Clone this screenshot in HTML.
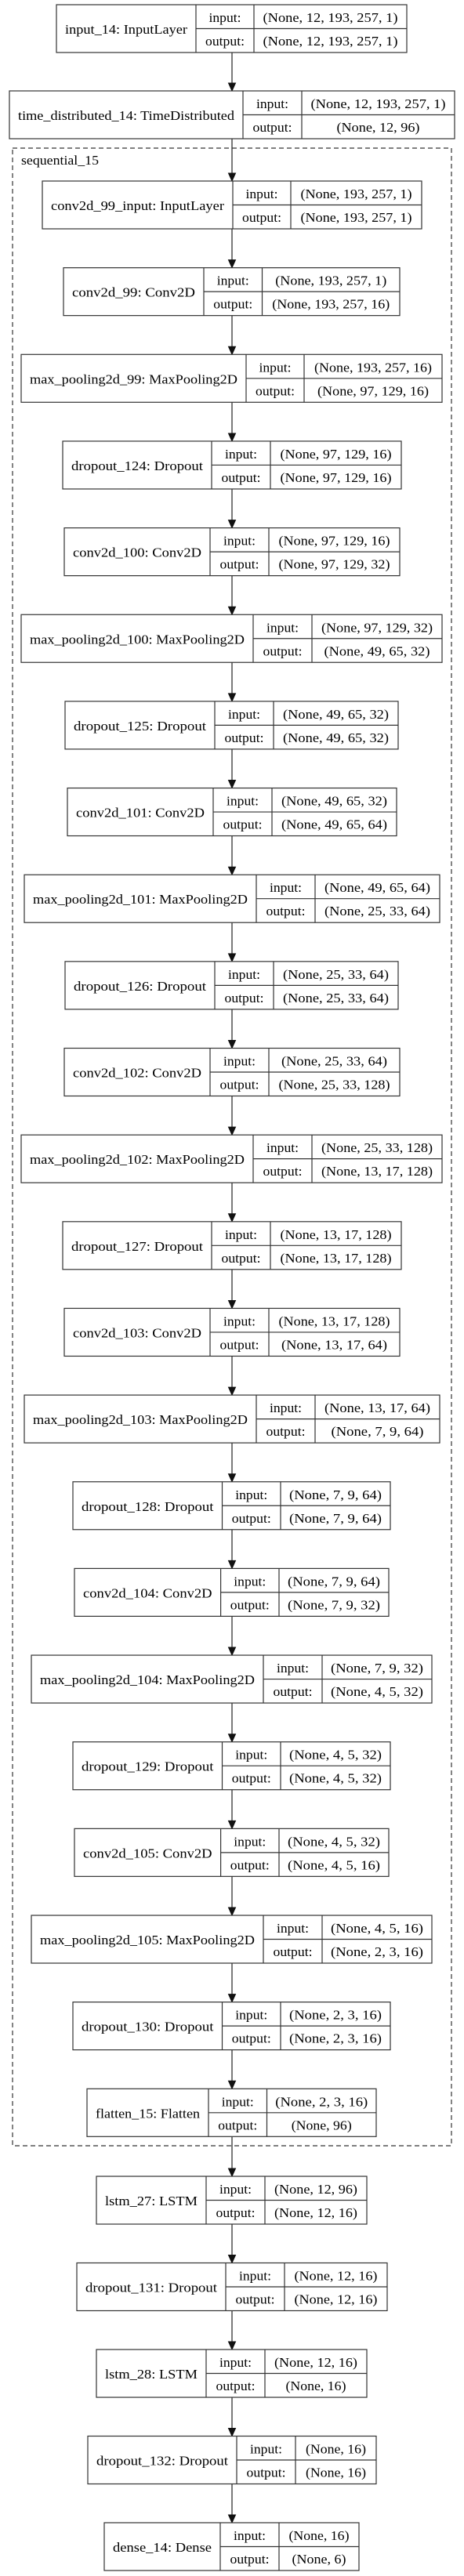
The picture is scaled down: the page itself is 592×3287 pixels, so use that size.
<!DOCTYPE html>
<html><head><meta charset="utf-8"><style>
html,body{margin:0;padding:0;background:#fff;}
svg{display:block;}
rect,line{stroke:#333;stroke-width:1.2;fill:none;}
rect.b{fill:#fff;}
text{font-family:"Liberation Serif",serif;font-size:17px;fill:#000;text-anchor:middle;}
.ar line{stroke:#333;stroke-width:1.3;}
.ar polygon{fill:#111;stroke:#111;stroke-width:1;}
</style></head><body>
<svg width="592" height="3287" viewBox="0 0 592 3287" xmlns="http://www.w3.org/2000/svg" lengthAdjust="spacingAndGlyphs">
<rect x="0" y="0" width="592" height="3287" style="fill:#fff;stroke:none"/>
<rect x="16" y="189" width="560" height="2549" style="stroke-dasharray:6,4"/>
<text x="27" y="210" style="text-anchor:start" textLength="99" lengthAdjust="spacingAndGlyphs">sequential_15</text>

<g class="ar">
<line x1="296" y1="67" x2="296" y2="106"/><polygon points="291.5,106 300.5,106 296,116"/>
<line x1="296" y1="177" x2="296" y2="221"/><polygon points="291.5,221 300.5,221 296,231"/>
<line x1="296" y1="292" x2="296" y2="331.65"/><polygon points="291.5,331.65 300.5,331.65 296,341.65"/>
<line x1="296" y1="402.65" x2="296" y2="442.3"/><polygon points="291.5,442.3 300.5,442.3 296,452.3"/>
<line x1="296" y1="513.3" x2="296" y2="552.95"/><polygon points="291.5,552.95 300.5,552.95 296,562.95"/>
<line x1="296" y1="623.95" x2="296" y2="663.6"/><polygon points="291.5,663.6 300.5,663.6 296,673.6"/>
<line x1="296" y1="734.6" x2="296" y2="774.25"/><polygon points="291.5,774.25 300.5,774.25 296,784.25"/>
<line x1="296" y1="845.25" x2="296" y2="884.9"/><polygon points="291.5,884.9 300.5,884.9 296,894.9"/>
<line x1="296" y1="955.9" x2="296" y2="995.55"/><polygon points="291.5,995.55 300.5,995.55 296,1005.55"/>
<line x1="296" y1="1066.55" x2="296" y2="1106.2"/><polygon points="291.5,1106.2 300.5,1106.2 296,1116.2"/>
<line x1="296" y1="1177.2" x2="296" y2="1216.85"/><polygon points="291.5,1216.85 300.5,1216.85 296,1226.85"/>
<line x1="296" y1="1287.85" x2="296" y2="1327.5"/><polygon points="291.5,1327.5 300.5,1327.5 296,1337.5"/>
<line x1="296" y1="1398.5" x2="296" y2="1438.15"/><polygon points="291.5,1438.15 300.5,1438.15 296,1448.15"/>
<line x1="296" y1="1509.15" x2="296" y2="1548.8"/><polygon points="291.5,1548.8 300.5,1548.8 296,1558.8"/>
<line x1="296" y1="1619.8" x2="296" y2="1659.45"/><polygon points="291.5,1659.45 300.5,1659.45 296,1669.45"/>
<line x1="296" y1="1730.45" x2="296" y2="1770.1"/><polygon points="291.5,1770.1 300.5,1770.1 296,1780.1"/>
<line x1="296" y1="1841.1" x2="296" y2="1880.75"/><polygon points="291.5,1880.75 300.5,1880.75 296,1890.75"/>
<line x1="296" y1="1951.75" x2="296" y2="1991.4"/><polygon points="291.5,1991.4 300.5,1991.4 296,2001.4"/>
<line x1="296" y1="2062.4" x2="296" y2="2102.05"/><polygon points="291.5,2102.05 300.5,2102.05 296,2112.05"/>
<line x1="296" y1="2173.05" x2="296" y2="2212.7"/><polygon points="291.5,2212.7 300.5,2212.7 296,2222.7"/>
<line x1="296" y1="2283.7" x2="296" y2="2323.35"/><polygon points="291.5,2323.35 300.5,2323.35 296,2333.35"/>
<line x1="296" y1="2394.35" x2="296" y2="2434"/><polygon points="291.5,2434 300.5,2434 296,2444"/>
<line x1="296" y1="2505" x2="296" y2="2544.65"/><polygon points="291.5,2544.65 300.5,2544.65 296,2554.65"/>
<line x1="296" y1="2615.65" x2="296" y2="2655.3"/><polygon points="291.5,2655.3 300.5,2655.3 296,2665.3"/>
<line x1="296" y1="2726.3" x2="296" y2="2767"/><polygon points="291.5,2767 300.5,2767 296,2777"/>
<line x1="296" y1="2838" x2="296" y2="2877.5"/><polygon points="291.5,2877.5 300.5,2877.5 296,2887.5"/>
<line x1="296" y1="2948.5" x2="296" y2="2988"/><polygon points="291.5,2988 300.5,2988 296,2998"/>
<line x1="296" y1="3059" x2="296" y2="3098.5"/><polygon points="291.5,3098.5 300.5,3098.5 296,3108.5"/>
<line x1="296" y1="3169.5" x2="296" y2="3209"/><polygon points="291.5,3209 300.5,3209 296,3219"/>
</g>

<!-- input_14 -->
<g transform="translate(0,6)"><rect class="b" x="72" y="0" width="447" height="61"/><line x1="250" y1="0" x2="250" y2="61"/><line x1="324" y1="0" x2="324" y2="61"/><line x1="250" y1="30.5" x2="519" y2="30.5"/>
<text x="161" y="37" textLength="156" lengthAdjust="spacingAndGlyphs">input_14: InputLayer</text><text x="287" y="22" textLength="41" lengthAdjust="spacingAndGlyphs">input:</text><text x="287" y="52" textLength="50" lengthAdjust="spacingAndGlyphs">output:</text>
<text x="421.5" y="22" textLength="172" lengthAdjust="spacingAndGlyphs">(None, 12, 193, 257, 1)</text><text x="421.5" y="52" textLength="172" lengthAdjust="spacingAndGlyphs">(None, 12, 193, 257, 1)</text></g>

<!-- time_distributed -->
<g transform="translate(0,116)"><rect class="b" x="12" y="0" width="568" height="61"/><line x1="310" y1="0" x2="310" y2="61"/><line x1="385" y1="0" x2="385" y2="61"/><line x1="310" y1="30.5" x2="580" y2="30.5"/>
<text x="161" y="37" textLength="276" lengthAdjust="spacingAndGlyphs">time_distributed_14: TimeDistributed</text><text x="347.5" y="22" textLength="41" lengthAdjust="spacingAndGlyphs">input:</text><text x="347.5" y="52" textLength="50" lengthAdjust="spacingAndGlyphs">output:</text>
<text x="482.5" y="22" textLength="172" lengthAdjust="spacingAndGlyphs">(None, 12, 193, 257, 1)</text><text x="482.5" y="52" textLength="106" lengthAdjust="spacingAndGlyphs">(None, 12, 96)</text></g>

<!-- 0 conv2d_99_input -->
<g transform="translate(0,231)"><rect class="b" x="54" y="0" width="484" height="61"/><line x1="297" y1="0" x2="297" y2="61"/><line x1="371" y1="0" x2="371" y2="61"/><line x1="297" y1="30.5" x2="538" y2="30.5"/>
<text x="175.5" y="37" textLength="221" lengthAdjust="spacingAndGlyphs">conv2d_99_input: InputLayer</text><text x="334" y="22" textLength="41" lengthAdjust="spacingAndGlyphs">input:</text><text x="334" y="52" textLength="50" lengthAdjust="spacingAndGlyphs">output:</text>
<text x="454.5" y="22" textLength="142" lengthAdjust="spacingAndGlyphs">(None, 193, 257, 1)</text><text x="454.5" y="52" textLength="142" lengthAdjust="spacingAndGlyphs">(None, 193, 257, 1)</text></g>

<!-- 1 conv2d_99 -->
<g transform="translate(0,341.65)"><rect class="b" x="81" y="0" width="429" height="61"/><line x1="260" y1="0" x2="260" y2="61"/><line x1="334.5" y1="0" x2="334.5" y2="61"/><line x1="260" y1="30.5" x2="510" y2="30.5"/>
<text x="170.5" y="37" textLength="157" lengthAdjust="spacingAndGlyphs">conv2d_99: Conv2D</text><text x="297.25" y="22" textLength="41" lengthAdjust="spacingAndGlyphs">input:</text><text x="297.25" y="52" textLength="50" lengthAdjust="spacingAndGlyphs">output:</text>
<text x="422.25" y="22" textLength="142" lengthAdjust="spacingAndGlyphs">(None, 193, 257, 1)</text><text x="422.25" y="52" textLength="150" lengthAdjust="spacingAndGlyphs">(None, 193, 257, 16)</text></g>

<!-- 2 mp99 -->
<g transform="translate(0,452.3)"><rect class="b" x="27" y="0" width="537" height="61"/><line x1="314" y1="0" x2="314" y2="61"/><line x1="388" y1="0" x2="388" y2="61"/><line x1="314" y1="30.5" x2="564" y2="30.5"/>
<text x="170.5" y="37" textLength="265" lengthAdjust="spacingAndGlyphs">max_pooling2d_99: MaxPooling2D</text><text x="351" y="22" textLength="41" lengthAdjust="spacingAndGlyphs">input:</text><text x="351" y="52" textLength="50" lengthAdjust="spacingAndGlyphs">output:</text>
<text x="476" y="22" textLength="150" lengthAdjust="spacingAndGlyphs">(None, 193, 257, 16)</text><text x="476" y="52" textLength="142" lengthAdjust="spacingAndGlyphs">(None, 97, 129, 16)</text></g>

<!-- 3 dropout_124 -->
<g transform="translate(0,562.95)"><rect class="b" x="80" y="0" width="432" height="61"/><line x1="270" y1="0" x2="270" y2="61"/><line x1="345" y1="0" x2="345" y2="61"/><line x1="270" y1="30.5" x2="512" y2="30.5"/>
<text x="175" y="37" textLength="168" lengthAdjust="spacingAndGlyphs">dropout_124: Dropout</text><text x="307.5" y="22" textLength="41" lengthAdjust="spacingAndGlyphs">input:</text><text x="307.5" y="52" textLength="50" lengthAdjust="spacingAndGlyphs">output:</text>
<text x="428.5" y="22" textLength="142" lengthAdjust="spacingAndGlyphs">(None, 97, 129, 16)</text><text x="428.5" y="52" textLength="142" lengthAdjust="spacingAndGlyphs">(None, 97, 129, 16)</text></g>

<!-- 4 conv2d_100 -->
<g transform="translate(0,673.6)"><rect class="b" x="82" y="0" width="428" height="61"/><line x1="268" y1="0" x2="268" y2="61"/><line x1="343" y1="0" x2="343" y2="61"/><line x1="268" y1="30.5" x2="510" y2="30.5"/>
<text x="175" y="37" textLength="164" lengthAdjust="spacingAndGlyphs">conv2d_100: Conv2D</text><text x="305.5" y="22" textLength="41" lengthAdjust="spacingAndGlyphs">input:</text><text x="305.5" y="52" textLength="50" lengthAdjust="spacingAndGlyphs">output:</text>
<text x="426.5" y="22" textLength="142" lengthAdjust="spacingAndGlyphs">(None, 97, 129, 16)</text><text x="426.5" y="52" textLength="142" lengthAdjust="spacingAndGlyphs">(None, 97, 129, 32)</text></g>

<!-- 5 mp100 -->
<g transform="translate(0,784.25)"><rect class="b" x="27" y="0" width="537" height="61"/><line x1="323" y1="0" x2="323" y2="61"/><line x1="398" y1="0" x2="398" y2="61"/><line x1="323" y1="30.5" x2="564" y2="30.5"/>
<text x="175" y="37" textLength="274" lengthAdjust="spacingAndGlyphs">max_pooling2d_100: MaxPooling2D</text><text x="360.5" y="22" textLength="41" lengthAdjust="spacingAndGlyphs">input:</text><text x="360.5" y="52" textLength="50" lengthAdjust="spacingAndGlyphs">output:</text>
<text x="481" y="22" textLength="142" lengthAdjust="spacingAndGlyphs">(None, 97, 129, 32)</text><text x="481" y="52" textLength="135" lengthAdjust="spacingAndGlyphs">(None, 49, 65, 32)</text></g>

<!-- 6 dropout_125 -->
<g transform="translate(0,894.9)"><rect class="b" x="83" y="0" width="425" height="61"/><line x1="274" y1="0" x2="274" y2="61"/><line x1="349" y1="0" x2="349" y2="61"/><line x1="274" y1="30.5" x2="508" y2="30.5"/>
<text x="178.5" y="37" textLength="169" lengthAdjust="spacingAndGlyphs">dropout_125: Dropout</text><text x="311.5" y="22" textLength="41" lengthAdjust="spacingAndGlyphs">input:</text><text x="311.5" y="52" textLength="50" lengthAdjust="spacingAndGlyphs">output:</text>
<text x="428.5" y="22" textLength="135" lengthAdjust="spacingAndGlyphs">(None, 49, 65, 32)</text><text x="428.5" y="52" textLength="135" lengthAdjust="spacingAndGlyphs">(None, 49, 65, 32)</text></g>

<!-- 7 conv2d_101 -->
<g transform="translate(0,1005.55)"><rect class="b" x="86" y="0" width="420" height="61"/><line x1="272" y1="0" x2="272" y2="61"/><line x1="347" y1="0" x2="347" y2="61"/><line x1="272" y1="30.5" x2="506" y2="30.5"/>
<text x="179" y="37" textLength="164" lengthAdjust="spacingAndGlyphs">conv2d_101: Conv2D</text><text x="309.5" y="22" textLength="41" lengthAdjust="spacingAndGlyphs">input:</text><text x="309.5" y="52" textLength="50" lengthAdjust="spacingAndGlyphs">output:</text>
<text x="426.5" y="22" textLength="135" lengthAdjust="spacingAndGlyphs">(None, 49, 65, 32)</text><text x="426.5" y="52" textLength="135" lengthAdjust="spacingAndGlyphs">(None, 49, 65, 64)</text></g>

<!-- 8 mp101 -->
<g transform="translate(0,1116.2)"><rect class="b" x="31" y="0" width="530" height="61"/><line x1="327" y1="0" x2="327" y2="61"/><line x1="402" y1="0" x2="402" y2="61"/><line x1="327" y1="30.5" x2="561" y2="30.5"/>
<text x="179" y="37" textLength="274" lengthAdjust="spacingAndGlyphs">max_pooling2d_101: MaxPooling2D</text><text x="364.5" y="22" textLength="41" lengthAdjust="spacingAndGlyphs">input:</text><text x="364.5" y="52" textLength="50" lengthAdjust="spacingAndGlyphs">output:</text>
<text x="481.5" y="22" textLength="135" lengthAdjust="spacingAndGlyphs">(None, 49, 65, 64)</text><text x="481.5" y="52" textLength="135" lengthAdjust="spacingAndGlyphs">(None, 25, 33, 64)</text></g>

<!-- 9 dropout_126 -->
<g transform="translate(0,1226.85)"><rect class="b" x="83" y="0" width="425" height="61"/><line x1="274" y1="0" x2="274" y2="61"/><line x1="349" y1="0" x2="349" y2="61"/><line x1="274" y1="30.5" x2="508" y2="30.5"/>
<text x="178.5" y="37" textLength="169" lengthAdjust="spacingAndGlyphs">dropout_126: Dropout</text><text x="311.5" y="22" textLength="41" lengthAdjust="spacingAndGlyphs">input:</text><text x="311.5" y="52" textLength="50" lengthAdjust="spacingAndGlyphs">output:</text>
<text x="428.5" y="22" textLength="135" lengthAdjust="spacingAndGlyphs">(None, 25, 33, 64)</text><text x="428.5" y="52" textLength="135" lengthAdjust="spacingAndGlyphs">(None, 25, 33, 64)</text></g>

<!-- 10 conv2d_102 -->
<g transform="translate(0,1337.5)"><rect class="b" x="82" y="0" width="428" height="61"/><line x1="268" y1="0" x2="268" y2="61"/><line x1="343" y1="0" x2="343" y2="61"/><line x1="268" y1="30.5" x2="510" y2="30.5"/>
<text x="175" y="37" textLength="164" lengthAdjust="spacingAndGlyphs">conv2d_102: Conv2D</text><text x="305.5" y="22" textLength="41" lengthAdjust="spacingAndGlyphs">input:</text><text x="305.5" y="52" textLength="50" lengthAdjust="spacingAndGlyphs">output:</text>
<text x="426.5" y="22" textLength="135" lengthAdjust="spacingAndGlyphs">(None, 25, 33, 64)</text><text x="426.5" y="52" textLength="142" lengthAdjust="spacingAndGlyphs">(None, 25, 33, 128)</text></g>

<!-- 11 mp102 -->
<g transform="translate(0,1448.15)"><rect class="b" x="27" y="0" width="537" height="61"/><line x1="323" y1="0" x2="323" y2="61"/><line x1="398" y1="0" x2="398" y2="61"/><line x1="323" y1="30.5" x2="564" y2="30.5"/>
<text x="175" y="37" textLength="274" lengthAdjust="spacingAndGlyphs">max_pooling2d_102: MaxPooling2D</text><text x="360.5" y="22" textLength="41" lengthAdjust="spacingAndGlyphs">input:</text><text x="360.5" y="52" textLength="50" lengthAdjust="spacingAndGlyphs">output:</text>
<text x="481" y="22" textLength="142" lengthAdjust="spacingAndGlyphs">(None, 25, 33, 128)</text><text x="481" y="52" textLength="142" lengthAdjust="spacingAndGlyphs">(None, 13, 17, 128)</text></g>

<!-- 12 dropout_127 -->
<g transform="translate(0,1558.8)"><rect class="b" x="80" y="0" width="432" height="61"/><line x1="270" y1="0" x2="270" y2="61"/><line x1="345" y1="0" x2="345" y2="61"/><line x1="270" y1="30.5" x2="512" y2="30.5"/>
<text x="175" y="37" textLength="168" lengthAdjust="spacingAndGlyphs">dropout_127: Dropout</text><text x="307.5" y="22" textLength="41" lengthAdjust="spacingAndGlyphs">input:</text><text x="307.5" y="52" textLength="50" lengthAdjust="spacingAndGlyphs">output:</text>
<text x="428.5" y="22" textLength="142" lengthAdjust="spacingAndGlyphs">(None, 13, 17, 128)</text><text x="428.5" y="52" textLength="142" lengthAdjust="spacingAndGlyphs">(None, 13, 17, 128)</text></g>

<!-- 13 conv2d_103 -->
<g transform="translate(0,1669.45)"><rect class="b" x="82" y="0" width="428" height="61"/><line x1="268" y1="0" x2="268" y2="61"/><line x1="343" y1="0" x2="343" y2="61"/><line x1="268" y1="30.5" x2="510" y2="30.5"/>
<text x="175" y="37" textLength="164" lengthAdjust="spacingAndGlyphs">conv2d_103: Conv2D</text><text x="305.5" y="22" textLength="41" lengthAdjust="spacingAndGlyphs">input:</text><text x="305.5" y="52" textLength="50" lengthAdjust="spacingAndGlyphs">output:</text>
<text x="426.5" y="22" textLength="142" lengthAdjust="spacingAndGlyphs">(None, 13, 17, 128)</text><text x="426.5" y="52" textLength="135" lengthAdjust="spacingAndGlyphs">(None, 13, 17, 64)</text></g>

<!-- 14 mp103 -->
<g transform="translate(0,1780.1)"><rect class="b" x="31" y="0" width="530" height="61"/><line x1="327" y1="0" x2="327" y2="61"/><line x1="402" y1="0" x2="402" y2="61"/><line x1="327" y1="30.5" x2="561" y2="30.5"/>
<text x="179" y="37" textLength="274" lengthAdjust="spacingAndGlyphs">max_pooling2d_103: MaxPooling2D</text><text x="364.5" y="22" textLength="41" lengthAdjust="spacingAndGlyphs">input:</text><text x="364.5" y="52" textLength="50" lengthAdjust="spacingAndGlyphs">output:</text>
<text x="481.5" y="22" textLength="135" lengthAdjust="spacingAndGlyphs">(None, 13, 17, 64)</text><text x="481.5" y="52" textLength="118" lengthAdjust="spacingAndGlyphs">(None, 7, 9, 64)</text></g>

<!-- 15 dropout_128 -->
<g transform="translate(0,1890.75)"><rect class="b" x="93" y="0" width="405" height="61"/><line x1="283.5" y1="0" x2="283.5" y2="61"/><line x1="358" y1="0" x2="358" y2="61"/><line x1="283.5" y1="30.5" x2="498" y2="30.5"/>
<text x="188.25" y="37" textLength="168.5" lengthAdjust="spacingAndGlyphs">dropout_128: Dropout</text><text x="320.75" y="22" textLength="41" lengthAdjust="spacingAndGlyphs">input:</text><text x="320.75" y="52" textLength="50" lengthAdjust="spacingAndGlyphs">output:</text>
<text x="428" y="22" textLength="118" lengthAdjust="spacingAndGlyphs">(None, 7, 9, 64)</text><text x="428" y="52" textLength="118" lengthAdjust="spacingAndGlyphs">(None, 7, 9, 64)</text></g>

<!-- 16 conv2d_104 -->
<g transform="translate(0,2001.4)"><rect class="b" x="95" y="0" width="401" height="61"/><line x1="281.6" y1="0" x2="281.6" y2="61"/><line x1="356" y1="0" x2="356" y2="61"/><line x1="281.6" y1="30.5" x2="496" y2="30.5"/>
<text x="188.3" y="37" textLength="164.6" lengthAdjust="spacingAndGlyphs">conv2d_104: Conv2D</text><text x="318.8" y="22" textLength="41" lengthAdjust="spacingAndGlyphs">input:</text><text x="318.8" y="52" textLength="50" lengthAdjust="spacingAndGlyphs">output:</text>
<text x="426" y="22" textLength="118" lengthAdjust="spacingAndGlyphs">(None, 7, 9, 64)</text><text x="426" y="52" textLength="118" lengthAdjust="spacingAndGlyphs">(None, 7, 9, 32)</text></g>

<!-- 17 mp104 -->
<g transform="translate(0,2112.05)"><rect class="b" x="40" y="0" width="511" height="61"/><line x1="336" y1="0" x2="336" y2="61"/><line x1="411" y1="0" x2="411" y2="61"/><line x1="336" y1="30.5" x2="551" y2="30.5"/>
<text x="188" y="37" textLength="274" lengthAdjust="spacingAndGlyphs">max_pooling2d_104: MaxPooling2D</text><text x="373.5" y="22" textLength="41" lengthAdjust="spacingAndGlyphs">input:</text><text x="373.5" y="52" textLength="50" lengthAdjust="spacingAndGlyphs">output:</text>
<text x="481" y="22" textLength="118" lengthAdjust="spacingAndGlyphs">(None, 7, 9, 32)</text><text x="481" y="52" textLength="118" lengthAdjust="spacingAndGlyphs">(None, 4, 5, 32)</text></g>

<!-- 18 dropout_129 -->
<g transform="translate(0,2222.7)"><rect class="b" x="93" y="0" width="405" height="61"/><line x1="283.5" y1="0" x2="283.5" y2="61"/><line x1="358" y1="0" x2="358" y2="61"/><line x1="283.5" y1="30.5" x2="498" y2="30.5"/>
<text x="188.25" y="37" textLength="168.5" lengthAdjust="spacingAndGlyphs">dropout_129: Dropout</text><text x="320.75" y="22" textLength="41" lengthAdjust="spacingAndGlyphs">input:</text><text x="320.75" y="52" textLength="50" lengthAdjust="spacingAndGlyphs">output:</text>
<text x="428" y="22" textLength="118" lengthAdjust="spacingAndGlyphs">(None, 4, 5, 32)</text><text x="428" y="52" textLength="118" lengthAdjust="spacingAndGlyphs">(None, 4, 5, 32)</text></g>

<!-- 19 conv2d_105 -->
<g transform="translate(0,2333.35)"><rect class="b" x="95" y="0" width="401" height="61"/><line x1="281.6" y1="0" x2="281.6" y2="61"/><line x1="356" y1="0" x2="356" y2="61"/><line x1="281.6" y1="30.5" x2="496" y2="30.5"/>
<text x="188.3" y="37" textLength="164.6" lengthAdjust="spacingAndGlyphs">conv2d_105: Conv2D</text><text x="318.8" y="22" textLength="41" lengthAdjust="spacingAndGlyphs">input:</text><text x="318.8" y="52" textLength="50" lengthAdjust="spacingAndGlyphs">output:</text>
<text x="426" y="22" textLength="118" lengthAdjust="spacingAndGlyphs">(None, 4, 5, 32)</text><text x="426" y="52" textLength="118" lengthAdjust="spacingAndGlyphs">(None, 4, 5, 16)</text></g>

<!-- 20 mp105 -->
<g transform="translate(0,2444)"><rect class="b" x="40" y="0" width="511" height="61"/><line x1="336" y1="0" x2="336" y2="61"/><line x1="411" y1="0" x2="411" y2="61"/><line x1="336" y1="30.5" x2="551" y2="30.5"/>
<text x="188" y="37" textLength="274" lengthAdjust="spacingAndGlyphs">max_pooling2d_105: MaxPooling2D</text><text x="373.5" y="22" textLength="41" lengthAdjust="spacingAndGlyphs">input:</text><text x="373.5" y="52" textLength="50" lengthAdjust="spacingAndGlyphs">output:</text>
<text x="481" y="22" textLength="118" lengthAdjust="spacingAndGlyphs">(None, 4, 5, 16)</text><text x="481" y="52" textLength="118" lengthAdjust="spacingAndGlyphs">(None, 2, 3, 16)</text></g>

<!-- 21 dropout_130 -->
<g transform="translate(0,2554.65)"><rect class="b" x="93" y="0" width="405" height="61"/><line x1="283.5" y1="0" x2="283.5" y2="61"/><line x1="358" y1="0" x2="358" y2="61"/><line x1="283.5" y1="30.5" x2="498" y2="30.5"/>
<text x="188.25" y="37" textLength="168.5" lengthAdjust="spacingAndGlyphs">dropout_130: Dropout</text><text x="320.75" y="22" textLength="41" lengthAdjust="spacingAndGlyphs">input:</text><text x="320.75" y="52" textLength="50" lengthAdjust="spacingAndGlyphs">output:</text>
<text x="428" y="22" textLength="118" lengthAdjust="spacingAndGlyphs">(None, 2, 3, 16)</text><text x="428" y="52" textLength="118" lengthAdjust="spacingAndGlyphs">(None, 2, 3, 16)</text></g>

<!-- 22 flatten_15 -->
<g transform="translate(0,2665.3)"><rect class="b" x="111" y="0" width="369" height="61"/><line x1="266" y1="0" x2="266" y2="61"/><line x1="340.5" y1="0" x2="340.5" y2="61"/><line x1="266" y1="30.5" x2="480" y2="30.5"/>
<text x="188.5" y="37" textLength="133" lengthAdjust="spacingAndGlyphs">flatten_15: Flatten</text><text x="303.25" y="22" textLength="41" lengthAdjust="spacingAndGlyphs">input:</text><text x="303.25" y="52" textLength="50" lengthAdjust="spacingAndGlyphs">output:</text>
<text x="410.25" y="22" textLength="118" lengthAdjust="spacingAndGlyphs">(None, 2, 3, 16)</text><text x="410.25" y="52" textLength="77" lengthAdjust="spacingAndGlyphs">(None, 96)</text></g>

<!-- lstm_27 -->
<g transform="translate(0,2777)"><rect class="b" x="123" y="0" width="345" height="61"/><line x1="263" y1="0" x2="263" y2="61"/><line x1="338" y1="0" x2="338" y2="61"/><line x1="263" y1="30.5" x2="468" y2="30.5"/>
<text x="193" y="37" textLength="118" lengthAdjust="spacingAndGlyphs">lstm_27: LSTM</text><text x="300.5" y="22" textLength="41" lengthAdjust="spacingAndGlyphs">input:</text><text x="300.5" y="52" textLength="50" lengthAdjust="spacingAndGlyphs">output:</text>
<text x="403" y="22" textLength="106" lengthAdjust="spacingAndGlyphs">(None, 12, 96)</text><text x="403" y="52" textLength="106" lengthAdjust="spacingAndGlyphs">(None, 12, 16)</text></g>

<!-- dropout_131 -->
<g transform="translate(0,2887.5)"><rect class="b" x="98" y="0" width="396" height="61"/><line x1="288" y1="0" x2="288" y2="61"/><line x1="363" y1="0" x2="363" y2="61"/><line x1="288" y1="30.5" x2="494" y2="30.5"/>
<text x="193" y="37" textLength="168" lengthAdjust="spacingAndGlyphs">dropout_131: Dropout</text><text x="325.5" y="22" textLength="41" lengthAdjust="spacingAndGlyphs">input:</text><text x="325.5" y="52" textLength="50" lengthAdjust="spacingAndGlyphs">output:</text>
<text x="428.5" y="22" textLength="106" lengthAdjust="spacingAndGlyphs">(None, 12, 16)</text><text x="428.5" y="52" textLength="106" lengthAdjust="spacingAndGlyphs">(None, 12, 16)</text></g>

<!-- lstm_28 -->
<g transform="translate(0,2998)"><rect class="b" x="123" y="0" width="345" height="61"/><line x1="263" y1="0" x2="263" y2="61"/><line x1="338" y1="0" x2="338" y2="61"/><line x1="263" y1="30.5" x2="468" y2="30.5"/>
<text x="193" y="37" textLength="118" lengthAdjust="spacingAndGlyphs">lstm_28: LSTM</text><text x="300.5" y="22" textLength="41" lengthAdjust="spacingAndGlyphs">input:</text><text x="300.5" y="52" textLength="50" lengthAdjust="spacingAndGlyphs">output:</text>
<text x="403" y="22" textLength="106" lengthAdjust="spacingAndGlyphs">(None, 12, 16)</text><text x="403" y="52" textLength="77" lengthAdjust="spacingAndGlyphs">(None, 16)</text></g>

<!-- dropout_132 -->
<g transform="translate(0,3108.5)"><rect class="b" x="112" y="0" width="368" height="61"/><line x1="302" y1="0" x2="302" y2="61"/><line x1="377" y1="0" x2="377" y2="61"/><line x1="302" y1="30.5" x2="480" y2="30.5"/>
<text x="207" y="37" textLength="168" lengthAdjust="spacingAndGlyphs">dropout_132: Dropout</text><text x="339.5" y="22" textLength="41" lengthAdjust="spacingAndGlyphs">input:</text><text x="339.5" y="52" textLength="50" lengthAdjust="spacingAndGlyphs">output:</text>
<text x="428.5" y="22" textLength="77" lengthAdjust="spacingAndGlyphs">(None, 16)</text><text x="428.5" y="52" textLength="77" lengthAdjust="spacingAndGlyphs">(None, 16)</text></g>

<!-- dense_14 -->
<g transform="translate(0,3219)"><rect class="b" x="133" y="0" width="325" height="61"/><line x1="281" y1="0" x2="281" y2="61"/><line x1="356" y1="0" x2="356" y2="61"/><line x1="281" y1="30.5" x2="458" y2="30.5"/>
<text x="207" y="37" textLength="126" lengthAdjust="spacingAndGlyphs">dense_14: Dense</text><text x="318.5" y="22" textLength="41" lengthAdjust="spacingAndGlyphs">input:</text><text x="318.5" y="52" textLength="50" lengthAdjust="spacingAndGlyphs">output:</text>
<text x="407" y="22" textLength="77" lengthAdjust="spacingAndGlyphs">(None, 16)</text><text x="407" y="52" textLength="69" lengthAdjust="spacingAndGlyphs">(None, 6)</text></g>
</svg>
</body></html>
